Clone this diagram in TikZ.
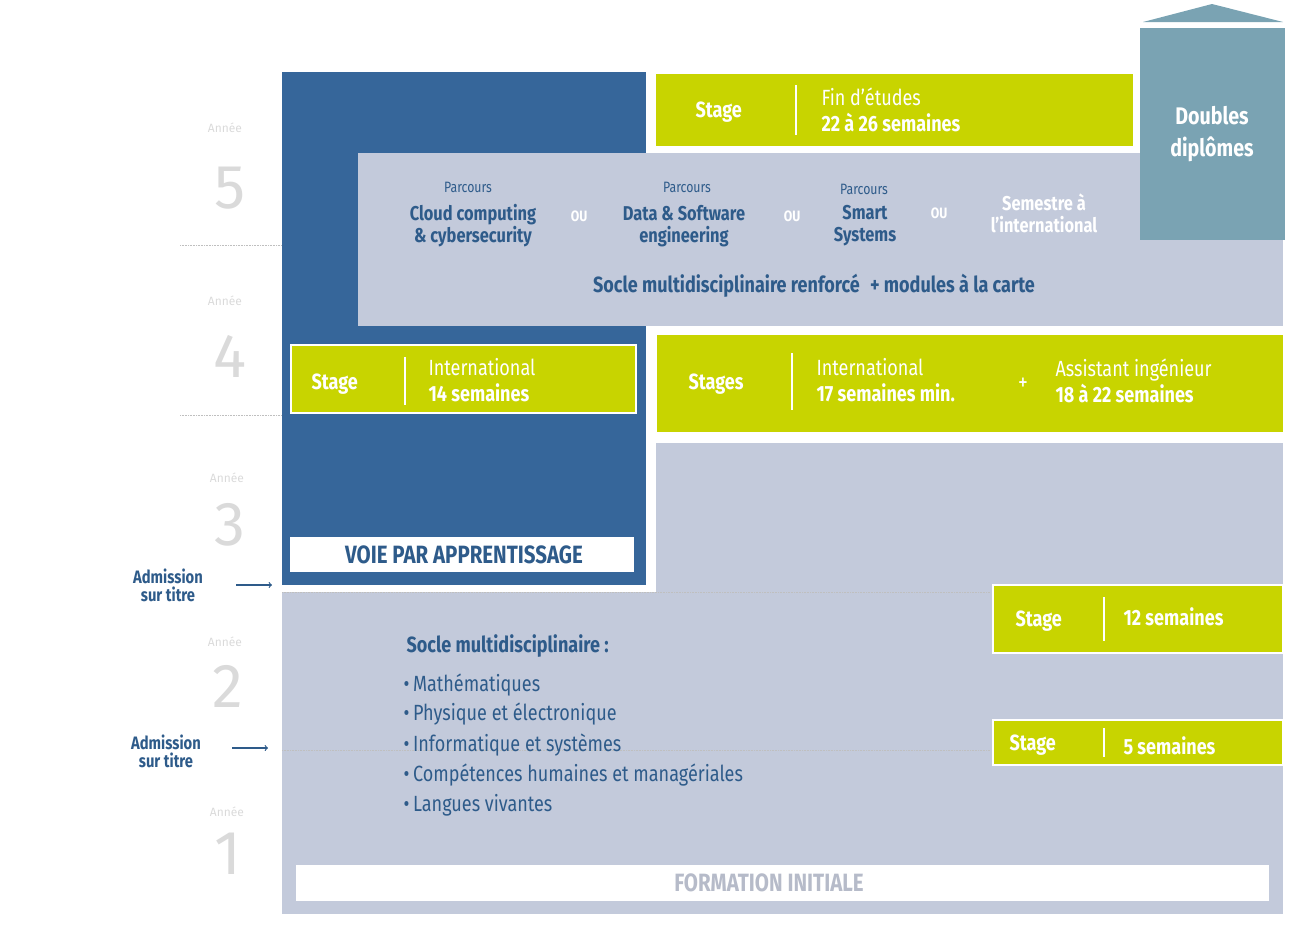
\documentclass[tikz,border=0pt]{standalone}
\usepackage{fontspec}
\setmainfont{Fira Sans}[FakeStretch=0.82]
\newfontfamily\yr{Fira Sans}
\begin{document}
\definecolor{dblue}{HTML}{36669A}
\definecolor{lgrey}{HTML}{C3CADB}
\definecolor{lime}{HTML}{C8D400}
\definecolor{teal}{HTML}{7AA3B3}
\definecolor{tblue}{HTML}{2E5B8A}
\definecolor{yg}{HTML}{DADADA}
\begin{tikzpicture}[x=1pt,y=-1pt,
 box/.style={draw=white,line width=1.5pt},
 wt/.style={text=white,font=\bfseries\fontsize{22}{24}\selectfont,align=left,anchor=west},
 wl/.style={text=white,font=\fontsize{22}{22}\selectfont,align=left,anchor=west},
 bt/.style={text=tblue,font=\bfseries\fontsize{20}{22}\selectfont,align=center},
 sm/.style={text=tblue,font=\fontsize{15}{16}\selectfont},
 ou/.style={text=white,font=\bfseries\fontsize{15}{16}\selectfont},
 it/.style={text=tblue,font=\fontsize{22}{30}\selectfont,anchor=west},
 dot/.style={densely dotted,draw=gray!50,line width=0.6pt},
 yl/.style={text=yg,font=\yr\fontsize{12}{12}\selectfont},
 yn/.style={text=yg,font=\yr\fontsize{62}{62}\selectfont},
 adm/.style={text=tblue,font=\bfseries\fontsize{18}{18}\selectfont,align=center},
 arr/.style={->,draw=tblue,line width=1.2pt}]
\useasboundingbox (0,0) rectangle (1302,929);
% backgrounds
\fill[lgrey] (282,592) rectangle (1283,914);
\fill[lgrey] (656,443) rectangle (1283,592);
\fill[dblue] (282,72) rectangle (646,585);
\fill[lgrey] (358,153) rectangle (1283,326);
\fill[teal] (1140,28) rectangle (1285,240);
\fill[teal] (1143,22) -- (1212,4) -- (1283,22) -- cycle;
\node[text=white,font=\bfseries\fontsize{24}{32}\selectfont,align=center] (dd) at (1212,134) {Doubles\\diplômes};
% dotted year separators
\draw[dot] (180,245) -- (282,245);
\draw[dot] (180,415) -- (282,415);
\draw[dot] (282,592) -- (990,592);
\draw[dot] (282,750) -- (990,750);
% years
\node[yl] (a5) at (225,128) {Année}; \node[yn] (n5) at (230,188) {5};
\node[yl] (a4) at (225,301) {Année}; \node[yn] (n4) at (230,356) {4};
\node[yl] (a3) at (227,478) {Année}; \node[yn] (n3) at (230,525) {3};
\node[yl] (a2) at (225,642) {Année}; \node[yn] (n2) at (228,686) {2};
\node[yl] (a1) at (227,812) {Année}; \node[yn] (n1) at (228,854) {1};
% stage fin d'etudes
\fill[lime,box] (655,73) rectangle (1134,147);
\draw[white,line width=1.5pt] (796,85) -- (796,135);
\node[wt] (s5) at (692,112) {Stage};
\node[wl,anchor=north west,font=\fontsize{22}{26}\selectfont] (f5) at (818,84) {Fin d'études\\\textbf{22 à 26 semaines}};
% parcours
\node[sm] (p1) at (468,187) {Parcours};
\node[bt] (c1) at (473,226) {Cloud computing\\\& cybersecurity};
\node[ou] (o1) at (579,216) {OU};
\node[sm] (p2) at (687,187) {Parcours};
\node[bt] (c2) at (684,226) {Data \& Software\\engineering};
\node[ou] (o2) at (792,216) {OU};
\node[sm] (p3) at (864,189) {Parcours};
\node[bt] (c3) at (865,226) {Smart\\Systems};
\node[ou] (o3) at (939,213) {OU};
\node[bt,text=white] (c4) at (1044,213) {Semestre à\\l'international};
\node[bt,font=\bfseries\fontsize{22}{24}\selectfont] (sm5) at (814,286) {Socle multidisciplinaire renforcé \;+ modules à la carte};
% stage international apprentissage
\fill[lime,box] (291,345) rectangle (636,413);
\draw[white,line width=1.5pt] (405,357) -- (405,405);
\node[wt] (s4) at (308,384) {Stage};
\node[wl,anchor=north west,font=\fontsize{22}{26}\selectfont] (i4) at (425,355) {International\\\textbf{14 semaines}};
% stages right
\fill[lime,box] (656,334) rectangle (1284,433);
\draw[white,line width=1.5pt] (792,353) -- (792,410);
\node[wt] (s4b) at (685,384) {Stages};
\node[wl,anchor=north west,font=\fontsize{22}{26}\selectfont] (i4b) at (813,355) {International\\\textbf{17 semaines min.}};
\node[text=white,font=\fontsize{24}{24}\selectfont] (pl) at (1023,384) {+};
\node[wl,anchor=north west,font=\fontsize{22}{26}\selectfont] (ai) at (1052,355) {Assistant ingénieur\\\textbf{18 à 22 semaines}};
% voie
\fill[white] (290,537) rectangle (634,572);
\node[text=tblue,font=\bfseries\fontsize{25}{25}\selectfont] (voie) at (464,555) {VOIE PAR APPRENTISSAGE};
% stage 12
\fill[lime,box] (993,585) rectangle (1283,653);
\draw[white,line width=1.5pt] (1104,597) -- (1104,641);
\node[wt] (s2) at (1012,621) {Stage};
\node[wt] (w12) at (1120,617) {12 semaines};
\fill[lime,box] (993,720) rectangle (1283,765);
\draw[white,line width=1.5pt] (1104,728) -- (1104,757);
\node[wt] (s1) at (1006,745) {Stage};
\node[wt] (w5) at (1120,746) {5 semaines};
% socle
\node[text=tblue,font=\bfseries\fontsize{22}{24}\selectfont,anchor=west] (sc) at (403,646) {Socle multidisciplinaire :};
\node[it] (l1) at (400,685) {\textbullet\,Mathématiques};
\node[it] (l2) at (400,714) {\textbullet\,Physique et électronique};
\node[it] (l3) at (400,745) {\textbullet\,Informatique et systèmes};
\node[it] (l4) at (400,775) {\textbullet\,Compétences humaines et managériales};
\node[it] (l5) at (400,805) {\textbullet\,Langues vivantes};
% formation initiale
\fill[white] (296,865) rectangle (1269,901);
\node[text=lgrey!80!gray,font=\bfseries\fontsize{25}{25}\selectfont] (fi) at (769,883) {FORMATION INITIALE};
% admissions
\node[adm] (ad1) at (168,585) {Admission\\sur titre};
\coordinate (e1a) at (236,585); \coordinate (e1b) at (272,585);
\draw[arr] (e1a) -- (e1b);
\node[adm] (ad2) at (166,751) {Admission\\sur titre};
\coordinate (e2a) at (232,748); \coordinate (e2b) at (268,748);
\draw[arr] (e2a) -- (e2b);
\end{tikzpicture}
\end{document}
